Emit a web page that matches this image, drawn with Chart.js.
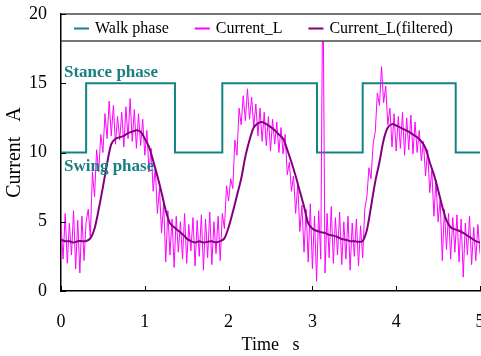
<!DOCTYPE html>
<html>
<head>
<meta charset="utf-8">
<title>Current</title>
<script src="https://cdn.jsdelivr.net/npm/chart.js@4"></script>
<style>
  html, body { margin: 0; padding: 0; background: #fff; }
  canvas { display: block; }
</style>
</head>
<body>
<canvas id="currentChart" width="481" height="356"></canvas>
<script>
// walk phase: level held from each switch time until the next
const walkTimes = [0, 0.30, 1.36, 1.925, 3.055, 3.60, 4.71, 5.0];
const walkLevels = [10, 15, 10, 15, 10, 15, 10, 10];

// raw current, one sample every 25 ms (0 .. 5 s), 20 samples per row
const RAW_DT = 0.025;
const rawCurrent = [
    4.8, 2.3, 5.6, 2.0, 4.9, 2.6, 5.8, 1.6, 5.1, 1.3, 5.4, 2.2, 5.0, 5.9, 3.9, 8.6, 6.8, 10.2, 8.6, 11.3,
    10.0, 12.8, 11.0, 13.7, 11.2, 13.4, 10.6, 12.6, 10.9, 12.9, 10.4, 13.3, 11.0, 13.9, 10.8, 13.1, 10.3, 12.8, 10.5, 12.4,
    9.8, 11.6, 8.6, 10.3, 7.2, 8.9, 5.6, 7.4, 4.2, 6.3, 2.1, 5.8, 2.6, 5.2, 1.7, 5.4, 2.8, 5.0, 2.3, 5.6,
    2.0, 4.8, 2.9, 5.3, 1.8, 5.1, 2.5, 5.5, 1.5, 5.2, 2.4, 5.7, 1.9, 5.0, 2.7, 5.4, 2.2, 5.6, 4.5, 7.6,
    6.5, 8.1, 7.4, 10.9, 9.8, 13.2, 12.0, 14.1, 12.3, 14.6, 12.4, 14.0, 11.8, 13.5, 11.2, 13.2, 10.8, 12.9, 10.5, 12.6,
    10.1, 12.4, 10.6, 12.2, 10.0, 11.8, 9.9, 11.3, 8.4, 9.3, 7.2, 8.3, 5.6, 7.7, 4.3, 6.2, 2.8, 5.9, 2.1, 6.3,
    1.6, 5.4, 0.7, 5.8, 2.3, 24.0, 1.3, 5.6, 2.4, 6.1, 2.0, 5.3, 2.6, 5.7, 1.9, 5.0, 2.3, 5.4, 1.5, 4.9,
    2.5, 5.2, 1.8, 4.7, 2.4, 5.9, 6.8, 8.9, 8.1, 10.6, 11.5, 14.3, 13.4, 16.2, 13.6, 14.8, 12.0, 13.2, 10.4, 12.8,
    10.1, 12.6, 10.3, 12.9, 9.8, 12.5, 10.2, 12.7, 9.9, 12.2, 10.0, 11.6, 9.4, 10.8, 8.3, 10.2, 7.1, 8.7, 5.4, 8.0,
    5.0, 6.6, 2.2, 5.9, 3.0, 5.6, 2.3, 5.3, 2.8, 5.5, 2.1, 5.2, 1.0, 4.9, 2.6, 5.4, 1.9, 4.6, 2.2, 4.8,
    2.7
];

// filtered current, one sample every 50 ms, 10 samples per row
const FILT_DT = 0.05;
const filteredCurrent = [
    3.7, 3.6, 3.6, 3.5, 3.6, 3.6, 3.6, 3.8, 4.5, 5.9,
    7.5, 9.2, 10.6, 11.0, 11.1, 11.2, 11.4, 11.5, 11.6, 11.5,
    11.0, 10.4, 9.4, 8.3, 7.1, 5.8, 4.9, 4.6, 4.35, 4.1,
    3.8, 3.6, 3.5, 3.6, 3.5, 3.55, 3.6, 3.5, 3.6, 3.8,
    4.6, 5.7, 6.9, 8.1, 9.7, 10.9, 11.8, 12.1, 12.2, 12.05,
    11.85, 11.6, 11.3, 11.0, 10.2, 9.3, 8.3, 7.2, 6.1, 4.9,
    4.5, 4.35, 4.25, 4.2, 4.05, 4.0, 3.9, 3.75, 3.7, 3.6,
    3.6, 3.55, 3.6, 4.4, 6.1, 7.9, 9.3, 10.9, 11.8, 12.05,
    11.95, 11.8, 11.65, 11.5, 11.3, 11.1, 10.8, 10.3, 9.3, 8.4,
    7.3, 6.1, 5.1, 4.6, 4.45, 4.35, 4.2, 4.0, 3.8, 3.6,
    3.5
];

const xTicks = [0, 1, 2, 3, 4, 5];
const yTicks = [0, 5, 10, 15, 20];
const phaseLabels = ['Stance phase', 'Swing phase'];

const SERIF = "'Liberation Serif', 'Times New Roman', serif";

const walkPoints = walkTimes.map((t, i) => ({ x: t, y: walkLevels[i] }));
const rawPoints = rawCurrent.map((v, i) => ({ x: i * RAW_DT, y: v }));
const filteredPoints = filteredCurrent.map((v, i) => ({ x: i * FILT_DT, y: v }));

// short tick marks pointing into the plot
const innerTicks = {
    id: 'innerTicks',
    afterDraw(chart) {
        const { ctx, chartArea, scales } = chart;
        ctx.save();
        ctx.strokeStyle = '#000';
        ctx.lineWidth = 1;
        ctx.beginPath();
        xTicks.forEach(v => {
            const px = Math.round(scales.x.getPixelForValue(v)) + 0.5;
            ctx.moveTo(px, chartArea.bottom);
            ctx.lineTo(px, chartArea.bottom - 5);
        });
        yTicks.forEach(v => {
            const py = Math.round(scales.y.getPixelForValue(v)) + 0.5;
            ctx.moveTo(chartArea.left, py);
            ctx.lineTo(chartArea.left + 5, py);
        });
        ctx.stroke();
        ctx.restore();
    }
};

// legend band across the top of the plot, plus the phase captions
const bandLegend = {
    id: 'bandLegend',
    afterDatasetsDraw(chart) {
        const { ctx, chartArea, scales } = chart;
        const top = chartArea.top;
        const bottom = top + 27;

        ctx.save();
        ctx.fillStyle = '#fff';
        ctx.fillRect(chartArea.left + 1, top - 1, chartArea.right - chartArea.left, bottom - top + 1);
        ctx.strokeStyle = '#4a4a4a';
        ctx.lineWidth = 1.5;
        ctx.beginPath();
        ctx.moveTo(chartArea.left, top);
        ctx.lineTo(chartArea.right + 1, top);
        ctx.moveTo(chartArea.left, bottom);
        ctx.lineTo(chartArea.right + 1, bottom);
        ctx.stroke();

        ctx.font = '16px ' + SERIF;
        ctx.textBaseline = 'middle';
        ctx.textAlign = 'left';
        const midY = (top + bottom) / 2 + 1;
        let x = chartArea.left + 13;
        chart.data.datasets.forEach(ds => {
            ctx.strokeStyle = ds.borderColor;
            ctx.lineWidth = 2;
            ctx.beginPath();
            ctx.moveTo(x, midY);
            ctx.lineTo(x + 15, midY);
            ctx.stroke();
            x += 21;
            ctx.fillStyle = '#000';
            ctx.fillText(ds.label, x, midY);
            x += ctx.measureText(ds.label).width + 26;
        });

        ctx.font = 'bold 17px ' + SERIF;
        ctx.fillStyle = '#1a7f7f';
        ctx.textBaseline = 'middle';
        ctx.fillText(phaseLabels[0], chartArea.left + 3, scales.y.getPixelForValue(15) - 11);
        ctx.fillText(phaseLabels[1], chartArea.left + 3, scales.y.getPixelForValue(10) + 14);
        ctx.restore();
    }
};

new Chart(document.getElementById('currentChart'), {
    type: 'line',
    data: {
        datasets: [{
            label: 'Walk phase',
            data: walkPoints,
            stepped: 'before',
            borderColor: '#138383',
            borderWidth: 2,
            pointRadius: 0,
            order: 3
        }, {
            label: 'Current_L',
            data: rawPoints,
            borderColor: '#ff00ff',
            borderWidth: 1,
            pointRadius: 0,
            tension: 0,
            order: 2
        }, {
            label: 'Current_L(filtered)',
            data: filteredPoints,
            borderColor: '#800080',
            borderWidth: 2,
            pointRadius: 0,
            tension: 0.3,
            order: 1
        }]
    },
    options: {
        responsive: false,
        animation: false,
        events: [],
        layout: { padding: { top: 14, right: 1, left: 0, bottom: 0 } },
        plugins: {
            legend: { display: false },
            tooltip: { enabled: false }
        },
        scales: {
            x: {
                type: 'linear',
                min: 0,
                max: 5,
                afterFit(scale) {
                    scale.height = 65;
                    scale.paddingLeft = 0;
                    scale.paddingRight = 0;
                },
                afterBuildTicks(scale) { scale.ticks = xTicks.map(v => ({ value: v })); },
                grid: { display: false, drawTicks: false, tickLength: 0 },
                border: { display: true, color: '#000', width: 1.5 },
                ticks: { color: '#000', padding: 20, maxRotation: 0, font: { family: SERIF, size: 18 } },
                title: {
                    display: true,
                    text: 'Time   s',
                    color: '#000',
                    padding: { top: 0, bottom: 0 },
                    font: { family: SERIF, size: 18 }
                }
            },
            y: {
                min: 0,
                max: 20,
                afterFit(scale) {
                    scale.width = 61;
                    scale.paddingTop = 0;
                    scale.paddingBottom = 0;
                },
                afterBuildTicks(scale) { scale.ticks = yTicks.map(v => ({ value: v })); },
                grid: { display: false, drawTicks: false, tickLength: 0 },
                border: { display: true, color: '#000', width: 1.5 },
                ticks: { color: '#000', padding: 14, font: { family: SERIF, size: 18 } },
                title: {
                    display: true,
                    text: 'Current   A',
                    color: '#000',
                    padding: { top: 3, bottom: 0 },
                    font: { family: SERIF, size: 20 }
                }
            }
        }
    },
    plugins: [innerTicks, bandLegend]
});
</script>
</body>
</html>
